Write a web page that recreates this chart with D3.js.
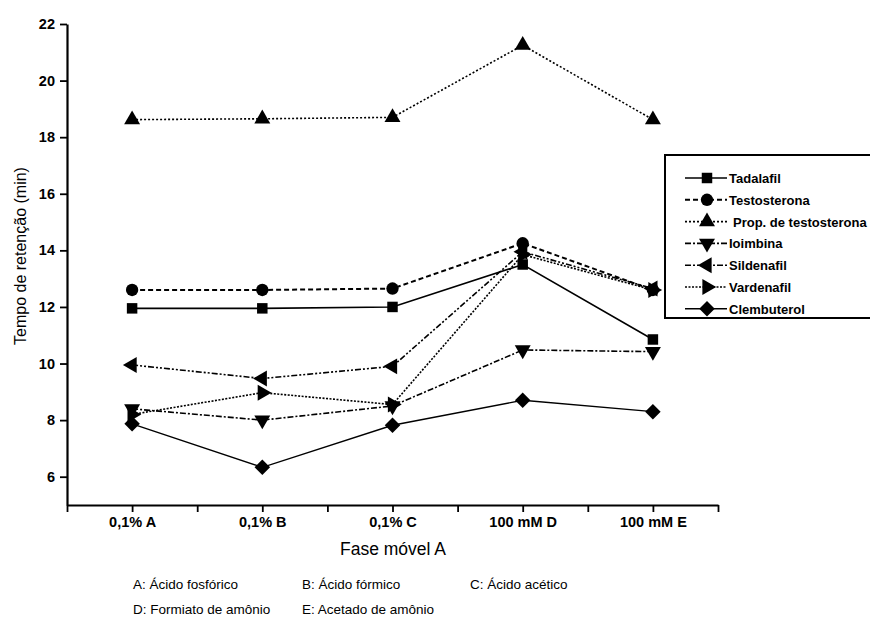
<!DOCTYPE html>
<html>
<head>
<meta charset="utf-8">
<script src="https://cdn.jsdelivr.net/npm/d3@7"></script>
<style>
  body { margin: 0; background: #fff; }
  svg { font-family: "Liberation Sans", Arial, sans-serif; }
</style>
</head>
<body>
<div id="chart"></div>
<script>
// data
var categories = ["0,1% A", "0,1% B", "0,1% C", "100 mM D", "100 mM E"];
var tadalafil = [11.95, 11.95, 12.0, 13.5, 10.85];
var testosterona = [12.6, 12.6, 12.65, 14.25, 12.6];
var propTestosterona = [18.62, 18.65, 18.7, 21.25, 18.62];
var ioimbina = [8.4, 8.0, 8.5, 10.48, 10.42];
var sildenafil = [9.95, 9.47, 9.9, 13.95, 12.65];
var vardenafil = [8.2, 8.97, 8.55, 13.85, 12.6];
var clembuterol = [7.87, 6.33, 7.82, 8.7, 8.3];
var yTicks = [6, 8, 10, 12, 14, 16, 18, 20, 22];
var footnotes = [
  ["A: Ácido fosfórico", "B: Ácido fórmico", "C: Ácido acético"],
  ["D: Formiato de amônio", "E: Acetado de amônio"]
];

var series = [
  { name: "Tadalafil", values: tadalafil, symbol: d3.symbolSquare, size: 110, rot: 0, dash: null, width: 1.6, indent: 0 },
  { name: "Testosterona", values: testosterona, symbol: d3.symbolCircle, size: 120, rot: 0, dash: "5,3", width: 2, indent: 0 },
  { name: "Prop. de testosterona", values: propTestosterona, symbol: d3.symbolTriangle, size: 110, rot: 0, dash: "2,2", width: 1.6, indent: 4 },
  { name: "Ioimbina", values: ioimbina, symbol: d3.symbolTriangle, size: 110, rot: 180, dash: "6,2,2,2", width: 1.6, indent: 0 },
  { name: "Sildenafil", values: sildenafil, symbol: d3.symbolTriangle, size: 110, rot: -90, dash: "6,2,2,2,2,2", width: 1.6, indent: 0 },
  { name: "Vardenafil", values: vardenafil, symbol: d3.symbolTriangle, size: 110, rot: 90, dash: "2,1.5", width: 1.6, indent: 0 },
  // diamond = square turned 45 degrees
  { name: "Clembuterol", values: clembuterol, symbol: d3.symbolSquare, size: 120, rot: 45, dash: null, width: 1.4, indent: 0 }
];

var svgWidth = 870;
var svgHeight = 619;

var svg = d3.select("#chart")
  .append("svg")
  .attr("width", svgWidth)
  .attr("height", svgHeight);

// scales
var x = d3.scaleLinear().domain([-0.5, 4.5]).range([67, 718]);
var y = d3.scaleLinear().domain([5, 22]).range([505, 24]);

// x axis with minor ticks between categories
var xTickVals = d3.range(-0.5, 4.51, 0.5);
var xAxis = svg.append("g")
  .attr("transform", "translate(0,505)")
  .call(d3.axisBottom(x)
    .tickValues(xTickVals)
    .tickSize(7)
    .tickSizeOuter(0)
    .tickPadding(5)
    .tickFormat(function(d) { return Number.isInteger(d) ? categories[d] : ""; }));
xAxis.select(".domain").attr("stroke-width", 2.2);
xAxis.selectAll(".tick line").attr("stroke-width", 1.8);
xAxis.selectAll(".tick text")
  .attr("font-size", 14.5)
  .attr("font-weight", "bold")
  .attr("fill", "#000");

// y axis
var yAxis = svg.append("g")
  .attr("transform", "translate(67,0)")
  .call(d3.axisLeft(y)
    .tickValues(yTicks)
    .tickSize(7)
    .tickSizeOuter(0)
    .tickPadding(5));
yAxis.select(".domain").attr("stroke-width", 2.2);
yAxis.selectAll(".tick line").attr("stroke-width", 1.8);
yAxis.selectAll(".tick text")
  .attr("font-size", 14.5)
  .attr("font-weight", "bold")
  .attr("fill", "#000");

// axis titles
svg.append("text")
  .attr("transform", "translate(26,256) rotate(-90)")
  .attr("text-anchor", "middle")
  .attr("font-size", 16)
  .text("Tempo de retenção  (min)");

svg.append("text")
  .attr("x", 393)
  .attr("y", 555)
  .attr("text-anchor", "middle")
  .attr("font-size", 17.5)
  .text("Fase móvel A");

// lines and markers
var line = d3.line()
  .x(function(d, i) { return x(i); })
  .y(function(d) { return y(d); });

series.forEach(function(s) {
  svg.append("path")
    .datum(s.values)
    .attr("d", line)
    .attr("fill", "none")
    .attr("stroke", "#000")
    .attr("stroke-width", s.width)
    .attr("stroke-dasharray", s.dash);
});

series.forEach(function(s) {
  svg.selectAll(null)
    .data(s.values)
    .enter()
    .append("path")
    .attr("d", d3.symbol().type(s.symbol).size(s.size))
    .attr("transform", function(d, i) {
      return "translate(" + x(i) + "," + y(d) + ") rotate(" + s.rot + ")";
    })
    .attr("fill", "#000");
});

// legend
var legend = svg.append("g").attr("transform", "translate(665,155)");
legend.append("rect")
  .attr("width", 215)
  .attr("height", 163)
  .attr("fill", "#fff")
  .attr("stroke", "#000")
  .attr("stroke-width", 2);

series.forEach(function(s, i) {
  var ly = 23 + i * 21.8;
  legend.append("line")
    .attr("x1", 20).attr("x2", 62)
    .attr("y1", ly).attr("y2", ly)
    .attr("stroke", "#000")
    .attr("stroke-width", s.width)
    .attr("stroke-dasharray", s.dash);
  legend.append("path")
    .attr("d", d3.symbol().type(s.symbol).size(s.size))
    .attr("transform", "translate(42," + ly + ") rotate(" + s.rot + ")")
    .attr("fill", "#000");
  legend.append("text")
    .attr("x", 64 + s.indent)
    .attr("y", ly + 5)
    .attr("font-size", 13)
    .attr("font-weight", "bold")
    .text(s.name);
});

// footnotes
var colX = [133, 302, 470];
var rowY = [589, 614];
footnotes.forEach(function(row, r) {
  row.forEach(function(t, c) {
    svg.append("text")
      .attr("x", colX[c])
      .attr("y", rowY[r])
      .attr("font-size", 13.5)
      .text(t);
  });
});
</script>
</body>
</html>
